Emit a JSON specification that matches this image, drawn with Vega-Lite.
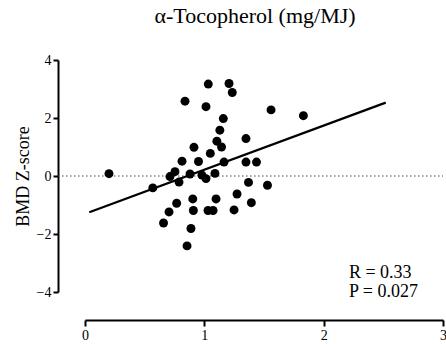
{
  "$schema": "https://vega.github.io/schema/vega-lite/v6.json",
  "autosize": {"type": "none"},
  "padding": {"left": 85, "top": 60, "right": 3, "bottom": 52},
  "width": 358,
  "height": 232,
  "background": "white",
  "config": {
    "view": {"stroke": null},
    "font": "Liberation Serif",
    "axis": {"grid": false, "domainColor": "black", "tickColor": "black", "labelColor": "black", "titleColor": "black", "labelFont": "Liberation Serif", "titleFont": "Liberation Serif"}
  },
  "title": {"text": "α-Tocopherol (mg/MJ)", "font": "Liberation Serif", "fontSize": 22, "fontWeight": "normal", "color": "black", "anchor": "middle", "frame": "group", "offset": 25, "dx": -9},
  "datasets": {
    "points": [
      {"x": 1.033, "y": 3.17}, {"x": 1.207, "y": 3.19}, {"x": 1.234, "y": 2.88}, {"x": 0.838, "y": 2.58},
      {"x": 1.014, "y": 2.39}, {"x": 1.559, "y": 2.28}, {"x": 1.830, "y": 2.08}, {"x": 1.159, "y": 1.98},
      {"x": 1.130, "y": 1.58}, {"x": 1.105, "y": 1.20}, {"x": 1.144, "y": 1.00}, {"x": 1.349, "y": 1.29},
      {"x": 0.913, "y": 0.99}, {"x": 1.050, "y": 0.78}, {"x": 0.813, "y": 0.51}, {"x": 0.951, "y": 0.50},
      {"x": 1.165, "y": 0.48}, {"x": 1.349, "y": 0.48}, {"x": 1.437, "y": 0.48}, {"x": 0.201, "y": 0.08},
      {"x": 0.754, "y": 0.15}, {"x": 0.712, "y": -0.02}, {"x": 0.788, "y": -0.21}, {"x": 0.880, "y": 0.07},
      {"x": 0.980, "y": 0.03}, {"x": 1.014, "y": -0.09}, {"x": 1.089, "y": 0.09}, {"x": 0.568, "y": -0.41},
      {"x": 1.370, "y": -0.22}, {"x": 1.529, "y": -0.32}, {"x": 1.274, "y": -0.62}, {"x": 0.768, "y": -0.94},
      {"x": 0.903, "y": -0.79}, {"x": 1.098, "y": -0.79}, {"x": 1.394, "y": -0.92}, {"x": 0.704, "y": -1.24},
      {"x": 0.908, "y": -1.19}, {"x": 1.031, "y": -1.19}, {"x": 1.073, "y": -1.19}, {"x": 1.249, "y": -1.17},
      {"x": 0.658, "y": -1.62}, {"x": 0.888, "y": -1.81}, {"x": 0.855, "y": -2.41}
    ],
    "fit": [{"x": 0.036, "y": -1.25}, {"x": 2.52, "y": 2.53}],
    "zero": [{"x": -0.226, "x2": 3, "y": 0}],
    "labels": [{"x": 2.212, "y": -3.52, "label": "R = 0.33"}, {"x": 2.212, "y": -4.17, "label": "P = 0.027"}]
  },
  "encoding": {
    "x": {"field": "x", "type": "quantitative", "scale": {"domain": [0, 3], "nice": false, "zero": false},
      "axis": {"title": null, "values": [0, 1, 2, 3], "offset": 28, "domainWidth": 2, "tickWidth": 2, "tickSize": 6, "labelFont": "Liberation Serif", "labelFontSize": 14, "labelPadding": 2, "labelFlush": false}},
    "y": {"field": "y", "type": "quantitative", "scale": {"domain": [-4, 4], "nice": false, "zero": false},
      "axis": {"title": "BMD Z-score", "values": [-4, -2, 0, 2, 4], "offset": 27, "domainWidth": 2, "tickWidth": 2, "tickSize": 5, "labelFont": "Liberation Serif", "labelFontSize": 14, "labelPadding": 2, "titleFont": "Liberation Serif", "titleFontSize": 18, "titleFontWeight": "normal", "titlePadding": 4}}
  },
  "layer": [
    {"data": {"name": "zero"}, "mark": {"type": "rule", "strokeDash": [1.5, 2.5], "strokeWidth": 1, "color": "#444"},
      "encoding": {"x2": {"field": "x2"}}},
    {"data": {"name": "fit"}, "mark": {"type": "line", "color": "black", "strokeWidth": 2.3}},
    {"data": {"name": "points"}, "mark": {"type": "point", "filled": true, "color": "black", "opacity": 1, "size": 80}},
    {"data": {"name": "labels"}, "mark": {"type": "text", "align": "left", "baseline": "alphabetic", "fontSize": 18, "font": "Liberation Serif", "color": "black"},
      "encoding": {"text": {"field": "label"}}}
  ]
}
